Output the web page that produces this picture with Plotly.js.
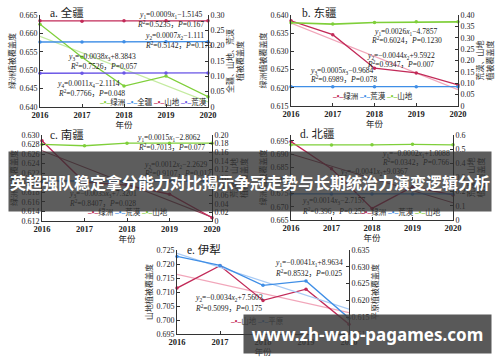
<!DOCTYPE html>
<html><head><meta charset="utf-8">
<script src="https://cdn.plot.ly/plotly-3.0.1.min.js"></script>
<style>html,body{margin:0;padding:0;background:#fff}#chart{width:500px;height:362px}</style>
</head><body><div id="chart"></div>
<script>
// ---------- data ----------
const years = [2016, 2017, 2018, 2019, 2020];
const trendYears = [2016, 2020];

// a. 全疆
const aOasis = [0.6625, 0.6535, 0.6457, 0.6484, 0.6428];
const aOasisTrend = [0.6592, 0.6414];
const aAll = [0.212, 0.212, 0.213, 0.213, 0.213];
const aMountain = [0.281, 0.280, 0.281, 0.281, 0.281];
const aDesert = [0.110, 0.110, 0.111, 0.111, 0.111];

// b. 东疆
const bOasis = [0.6384, 0.6346, 0.6254, 0.6241, 0.6208];
const bOasisTrend = [0.6378, 0.6195];
const bDesert = [0.085, 0.085, 0.085, 0.085, 0.085];
const bMountain = [0.366, 0.360, 0.367, 0.370, 0.370];

// c. 南疆
const cOasis = [0.6288, 0.6201, 0.6195, 0.6176, 0.6127];
const cOasisTrend = [0.6267, 0.6128];
const cDesert = [0.093, 0.093, 0.093, 0.093, 0.093];
const cMountain = [0.178, 0.175, 0.181, 0.181, 0.181];

// d. 北疆
const dOasis = [0.6947, 0.6844, 0.6694, 0.6775, 0.6745];
const dOasisTrend = [0.6900, 0.6715];
const dDesert = [0.184, 0.184, 0.184, 0.184, 0.184];
const dMountain = [0.531, 0.530, 0.531, 0.534, 0.531];

// e. 伊犁
const eMountain = [0.7114, 0.7194, 0.7070, 0.7110, 0.6985];
const eMountainTrend = [0.7163, 0.7026];
const ePlain = [0.6331, 0.6304, 0.6245, 0.6258, 0.6147];
const ePlainTrend = [0.6340, 0.6174];

// tick labels
const aLeftTicks = [0.640, 0.645, 0.650, 0.655, 0.660, 0.665];
const aRightTicks = [0, 0.05, 0.10, 0.15, 0.20, 0.25, 0.30];
const aRightText = ['0', '0.05', '0.10', '0.15', '0.20', '0.25', '0.30'];
const bLeftTicks = [0.615, 0.620, 0.625, 0.630, 0.635, 0.640];
const bRightTicks = [0, 0.05, 0.10, 0.15, 0.20, 0.25, 0.30, 0.35, 0.40];
const bRightText = ['0', '0.05', '0.10', '0.15', '0.20', '0.25', '0.30', '0.35', '0.40'];
const cLeftTicks = [0.612, 0.614, 0.616, 0.618, 0.620, 0.622, 0.624, 0.626, 0.628, 0.630];
const cRightTicks = [0, 0.02, 0.04, 0.06, 0.08, 0.10, 0.12, 0.14, 0.16, 0.18, 0.20];
const cRightText = ['0', '0.02', '0.04', '0.06', '0.08', '0.10', '0.12', '0.14', '0.16', '0.18', '0.20'];
const dLeftTicks = [0.665, 0.670, 0.675, 0.680, 0.685, 0.690, 0.695];
const dRightTicks = [0, 0.1, 0.2, 0.3, 0.4, 0.5, 0.6];
const dRightText = ['0', '0.1', '0.2', '0.3', '0.4', '0.5', '0.6'];
const eLeftTicks = [0.695, 0.700, 0.705, 0.710, 0.715, 0.720, 0.725];
const eRightTicks = [0.610, 0.615, 0.620, 0.625, 0.630, 0.635];

// texts
const panelTitles = ['a. 全疆', 'b. 东疆', 'c. 南疆', 'd. 北疆', 'e. 伊犁'];
const leftTitles = ['绿洲植被覆盖度', '绿洲植被覆盖度', '绿洲植被覆盖度', '绿洲植被覆盖度', '山地植被覆盖度'];
const rightTitles = ['全疆、山地、荒漠<br>植被覆盖度', '荒漠、山地<br>植被覆盖度', '荒漠、山地<br>植被覆盖度', '荒漠、山地<br>植被覆盖度', '平原植被覆盖度'];
const xTitle = '年份';
const bannerText = '英超强队稳定拿分能力对比揭示争冠走势与长期统治力演变逻辑分析';
const watermarkText = 'www.zh-wap-pagames.com';

const eqA = ['<i>y</i><sub>1</sub>=0.0009<i>x</i><sub>1</sub>−1.5145', '<i>R</i><sup>2</sup>=0.5235，<i>P</i>=0.167',
  '<i>y</i><sub>2</sub>=0.0007<i>x</i><sub>2</sub>−1.111', '<i>R</i><sup>2</sup>=0.5142，<i>P</i>=0.173',
  '<i>y</i><sub>3</sub>=−0.0038<i>x</i><sub>3</sub>+8.3843', '<i>R</i><sup>2</sup>=0.7526，<i>P</i>=0.057',
  '<i>y</i><sub>4</sub>=0.0011<i>x</i><sub>4</sub>−2.1114', '<i>R</i><sup>2</sup>=0.7766，<i>P</i>=0.048'];
const eqB = ['<i>y</i><sub>1</sub>=0.0026<i>x</i><sub>1</sub>−4.7857', '<i>R</i><sup>2</sup>=0.6024，<i>P</i>=0.1230',
  '<i>y</i><sub>2</sub>=−0.0044<i>x</i><sub>2</sub>+9.5922', '<i>R</i><sup>2</sup>=0.9347，<i>P</i>=0.007',
  '<i>y</i><sub>3</sub>=0.0005<i>x</i><sub>3</sub>−0.9684', '<i>R</i><sup>2</sup>=0.6989，<i>P</i>=0.078'];
const eqC = ['<i>y</i><sub>1</sub>=0.0015<i>x</i><sub>1</sub>−2.8062', '<i>R</i><sup>2</sup>=0.7013，<i>P</i>=0.077',
  '<i>y</i><sub>2</sub>=0.0012<i>x</i><sub>2</sub>−2.2629', '<i>R</i><sup>2</sup>=0.9107，<i>P</i>=0.012',
  '<i>y</i><sub>3</sub>=−0.0035<i>x</i><sub>3</sub>+7.3201', '<i>R</i><sup>2</sup>=0.8407，<i>P</i>=0.028'];
const eqD = ['<i>y</i><sub>1</sub>=−0.0002<i>x</i><sub>1</sub>+1.0088', '<i>R</i><sup>2</sup>=0.0342，<i>P</i>=0.766',
  '<i>y</i><sub>2</sub>=−0.0041<i>x</i><sub>2</sub>+9.0367',
  '<i>y</i><sub>3</sub>=0.0014<i>x</i><sub>3</sub>−2.7157', '<i>R</i><sup>2</sup>=0.396，<i>P</i>=0.255'];
const eqE = ['<i>y</i><sub>1</sub>=−0.0041<i>x</i><sub>1</sub>+8.9634', '<i>R</i><sup>2</sup>=0.8532，<i>P</i>=0.025',
  '<i>y</i><sub>2</sub>=−0.0034<i>x</i><sub>2</sub>+7.5603', '<i>R</i><sup>2</sup>=0.5099，<i>P</i>=0.175'];

// ---------- styles ----------
const W = 500, H = 362;
const SERIF = '"Liberation Serif", "Noto Sans CJK SC", serif';
const C = {
  green: '#7fcf3a', greenT: '#c4eba0',
  blue: '#3f8ee6', blueT: '#a9cbf5',
  red: '#c22a58', redT: '#f1a6ba', redD: '#9c4a60',
  purple: '#6b57e6'
};

const boxes = [
  {x0: 40, x1: 208, y0: 15, y1: 107},
  {x0: 291, x1: 458, y0: 15, y1: 106},
  {x0: 42, x1: 212, y0: 135, y1: 221},
  {x0: 291, x1: 453, y0: 135, y1: 220},
  {x0: 177, x1: 349, y0: 250, y1: 334}
];
const leftRanges = [[0.640, 0.665], [0.615, 0.640], [0.612, 0.630], [0.665, 0.6972], [0.695, 0.725]];
const rightRanges = [[0, 0.30], [0, 0.40], [0, 0.20], [0, 0.6], [0.610, 0.635]];
const leftTicks = [aLeftTicks, bLeftTicks, cLeftTicks, dLeftTicks, eLeftTicks];
const rightTicks = [aRightTicks, bRightTicks, cRightTicks, dRightTicks, eRightTicks];
const rightText = [aRightText, bRightText, cRightText, dRightText, eRightTicks.map(v => v.toFixed(3))];

const traces = [];
function addLine(p, side, x, y, color, width, withMarkers) {
  const xa = 'x' + (p === 0 ? '' : p + 1);
  const yi = 2 * p + (side === 'L' ? 1 : 2);
  traces.push({
    type: 'scatter', x: x, y: y, xaxis: xa, yaxis: 'y' + (yi === 1 ? '' : yi),
    mode: withMarkers ? 'lines+markers' : 'lines',
    line: {color: color, width: width},
    marker: {color: color, size: 3.5, symbol: 'circle'},
    cliponaxis: false, showlegend: false, hoverinfo: 'skip'
  });
}
// a
addLine(0, 'L', trendYears, aOasisTrend, C.greenT, 1.2, false);
addLine(0, 'L', years, aOasis, C.green, 1.3, true);
addLine(0, 'R', years, aAll, C.blue, 1.3, true);
addLine(0, 'R', years, aMountain, C.red, 1.3, true);
addLine(0, 'R', years, aDesert, C.purple, 1.3, true);
// b
addLine(1, 'L', trendYears, bOasisTrend, C.redT, 1.2, false);
addLine(1, 'L', years, bOasis, C.red, 1.3, true);
addLine(1, 'R', years, bDesert, C.blue, 1.3, true);
addLine(1, 'R', years, bMountain, C.green, 1.6, true);
// c
addLine(2, 'L', trendYears, cOasisTrend, C.redD, 1.1, false);
addLine(2, 'L', years, cOasis, C.red, 1.3, true);
addLine(2, 'R', years, cDesert, C.blue, 1.3, true);
addLine(2, 'R', years, cMountain, C.green, 1.3, true);
// d
addLine(3, 'L', trendYears, dOasisTrend, C.redD, 1.1, false);
addLine(3, 'L', years, dOasis, C.red, 1.3, true);
addLine(3, 'R', years, dDesert, C.blue, 1.3, true);
addLine(3, 'R', years, dMountain, C.green, 1.3, true);
// e
addLine(4, 'L', trendYears, eMountainTrend, C.redT, 1.2, false);
addLine(4, 'L', years, eMountain, C.red, 1.3, true);
addLine(4, 'R', trendYears, ePlainTrend, C.blueT, 1.2, false);
addLine(4, 'R', years, ePlain, C.blue, 1.3, true);

const layout = {
  width: W, height: H, margin: {l: 0, r: 0, t: 0, b: 0},
  paper_bgcolor: '#fff', plot_bgcolor: 'rgba(0,0,0,0)', showlegend: false,
  font: {family: SERIF, color: '#222', size: 9},
  annotations: []
};

boxes.forEach((b, p) => {
  const xk = 'xaxis' + (p === 0 ? '' : p + 1);
  const yl = 2 * p + 1, yr = 2 * p + 2;
  const ylk = 'yaxis' + (yl === 1 ? '' : yl), yrk = 'yaxis' + yr;
  const xref = 'x' + (p === 0 ? '' : p + 1);
  layout[xk] = {
    domain: [b.x0 / W, b.x1 / W], anchor: 'y' + (yl === 1 ? '' : yl),
    range: [2016, 2020], tickvals: years, ticktext: years.map(String),
    showline: true, linecolor: '#333', linewidth: 1, ticks: 'inside', ticklen: 3, tickcolor: '#333',
    showgrid: false, zeroline: false, fixedrange: true,
    tickfont: {family: SERIF, size: 8.5, color: '#222', weight: 'bold'},
    title: {text: xTitle, font: {family: SERIF, size: 8.5, color: '#222'}, standoff: 0}
  };
  layout[ylk] = {
    domain: [1 - b.y1 / H, 1 - b.y0 / H], anchor: xref,
    range: leftRanges[p], tickvals: leftTicks[p], ticktext: leftTicks[p].map(v => v.toFixed(3)),
    showline: true, linecolor: '#333', linewidth: 1, ticks: 'inside', ticklen: 3, tickcolor: '#333',
    showgrid: false, zeroline: false, fixedrange: true,
    tickfont: {family: SERIF, size: 8, color: '#222'},
    title: {text: leftTitles[p], font: {family: SERIF, size: 8, color: '#333'}, standoff: 2}
  };
  layout[yrk] = {
    overlaying: 'y' + (yl === 1 ? '' : yl), side: 'right', anchor: xref,
    range: rightRanges[p], tickvals: rightTicks[p], ticktext: rightText[p],
    showline: true, linecolor: '#333', linewidth: 1, ticks: 'inside', ticklen: 3, tickcolor: '#333',
    showgrid: false, zeroline: false, fixedrange: true,
    tickfont: {family: SERIF, size: 8, color: '#222'},
    title: {text: rightTitles[p], font: {family: SERIF, size: 8, color: '#333'}, standoff: 2}
  };
});

function note(text, px, py, size, extra) {
  layout.annotations.push(Object.assign({
    text: text, xref: 'paper', yref: 'paper', x: px / W, y: 1 - py / H,
    xanchor: 'left', yanchor: 'middle', showarrow: false,
    font: {family: SERIF, size: size, color: '#222'}
  }, extra || {}));
}
// panel titles
[[48, 13], [300, 13], [48, 134], [298, 134], [185, 249]].forEach((q, i) => note(panelTitles[i], q[0], q[1], 11.5));
// equations
const EQ = 7.6;
[[137, 15], [135, 24], [143, 36], [143, 45], [66, 57], [68, 66], [55, 84], [56, 93]].forEach((q, i) => note(eqA[i], q[0], q[1], EQ));
[[372, 32], [369, 40], [365, 56], [365, 64], [308, 71], [308, 79]].forEach((q, i) => note(eqB[i], q[0], q[1], EQ));
[[135, 138], [136, 147], [142, 165], [142, 173], [67, 194], [67, 203]].forEach((q, i) => note(eqC[i], q[0], q[1], EQ));
[[380, 154], [380, 162], [338, 172], [300, 201], [300, 211]].forEach((q, i) => note(eqD[i], q[0], q[1], EQ));
[[273, 263], [273, 273], [193, 298], [193, 308]].forEach((q, i) => note(eqE[i], q[0], q[1], EQ));

// legends (text keys)
function key(color, label) {
  return '<span style="color:' + color + '"><b>–•–</b></span>' + label;
}
const LG = 7.5;
note([key(C.green, '绿洲'), key(C.blue, '全疆'), key(C.red, '山地'), key(C.purple, '荒漠')].join(' '), 97, 102, LG);
note([key(C.red, '绿洲'), key(C.blue, '荒漠'), key(C.green, '山地')].join(' '), 330, 96, LG);
note([key(C.red, '绿洲'), key(C.blue, '荒漠'), key(C.green, '山地')].join(' '), 85, 212, LG);
note([key(C.red, '绿洲'), key(C.blue, '荒漠'), key(C.green, '山地')].join(' '), 358, 212, LG);
note([key(C.red, '山地'), key(C.blue, '平原')].join(' '), 228, 321, LG);

// overlay banners (drawn last, on top)
layout.annotations.push({
  text: '<b>' + bannerText + '</b>', xref: 'paper', yref: 'paper', x: 250 / W, y: 1 - 181.5 / H,
  xanchor: 'center', yanchor: 'middle', showarrow: false, width: 482, height: 59,
  bgcolor: 'rgba(48,48,48,0.78)', borderpad: 0,
  font: {family: '"Noto Sans CJK SC", sans-serif', size: 16, color: '#ffffff'}
});
layout.annotations.push({
  text: '<b>' + watermarkText + '</b>', xref: 'paper', yref: 'paper', x: 367.5 / W, y: 1 - 334 / H,
  xanchor: 'center', yanchor: 'middle', showarrow: false, width: 247, height: 38,
  bgcolor: 'rgba(60,60,60,0.85)', borderpad: 0,
  font: {family: '"Noto Sans", sans-serif', size: 17, color: '#ffffff'}
});

Plotly.newPlot('chart', traces, layout, {staticPlot: true, displayModeBar: false});
</script></body></html>
